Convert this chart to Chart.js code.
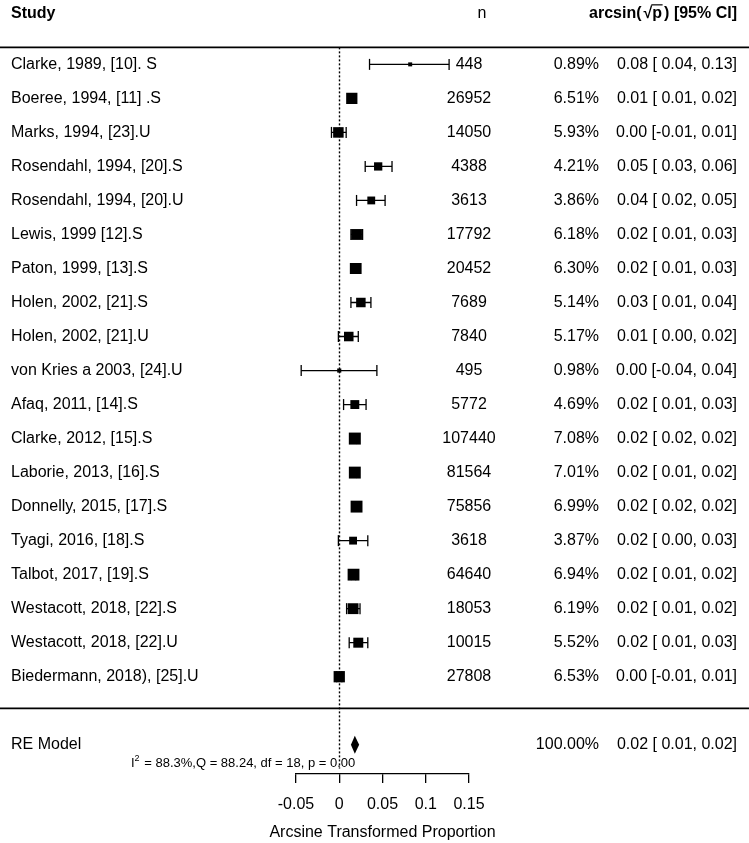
<!DOCTYPE html>
<html>
<head>
<meta charset="utf-8">
<script src="https://cdn.jsdelivr.net/npm/chart.js@4.4.1/dist/chart.umd.min.js"></script>
<style>
  html, body { margin: 0; padding: 0; background: #fff; }
  #wrap { width: 749px; height: 843px; position: relative; }
</style>
</head>
<body>
<div id="wrap"><canvas id="forest"></canvas></div>
<script>
// study rows, top to bottom
const studies = [
  "Clarke, 1989, [10]. S", "Boeree, 1994, [11] .S", "Marks, 1994, [23].U",
  "Rosendahl, 1994, [20].S", "Rosendahl, 1994, [20].U", "Lewis, 1999 [12].S",
  "Paton, 1999, [13].S", "Holen, 2002, [21].S", "Holen, 2002, [21].U",
  "von Kries a 2003, [24].U", "Afaq, 2011, [14].S", "Clarke, 2012, [15].S",
  "Laborie, 2013, [16].S", "Donnelly, 2015, [17].S", "Tyagi, 2016, [18].S",
  "Talbot, 2017, [19].S", "Westacott, 2018, [22].S", "Westacott, 2018, [22].U",
  "Biedermann, 2018), [25].U"
];
const sampleN = [448, 26952, 14050, 4388, 3613, 17792, 20452, 7689, 7840, 495,
  5772, 107440, 81564, 75856, 3618, 64640, 18053, 10015, 27808];
const weights = [0.89, 6.51, 5.93, 4.21, 3.86, 6.18, 6.30, 5.14, 5.17, 0.98,
  4.69, 7.08, 7.01, 6.99, 3.87, 6.94, 6.19, 5.52, 6.53];
const est = [0.082, 0.0145, -0.001, 0.045, 0.037, 0.020, 0.019, 0.025, 0.011, 0.000,
  0.018, 0.018, 0.018, 0.020, 0.016, 0.0165, 0.016, 0.022, 0.000];
const ciLow = [0.035, 0.010, -0.009, 0.030, 0.020, 0.0135, 0.013, 0.0135, -0.001, -0.044,
  0.005, 0.016, 0.015, 0.018, -0.001, 0.014, 0.0085, 0.0115, -0.003];
const ciHigh = [0.127, 0.019, 0.008, 0.061, 0.053, 0.027, 0.025, 0.0366, 0.022, 0.0435,
  0.031, 0.020, 0.020, 0.022, 0.033, 0.019, 0.024, 0.033, 0.003];
const estLabels = [
  "0.08 [ 0.04, 0.13]", "0.01 [ 0.01, 0.02]", "0.00 [-0.01, 0.01]",
  "0.05 [ 0.03, 0.06]", "0.04 [ 0.02, 0.05]", "0.02 [ 0.01, 0.03]",
  "0.02 [ 0.01, 0.03]", "0.03 [ 0.01, 0.04]", "0.01 [ 0.00, 0.02]",
  "0.00 [-0.04, 0.04]", "0.02 [ 0.01, 0.03]", "0.02 [ 0.02, 0.02]",
  "0.02 [ 0.01, 0.02]", "0.02 [ 0.02, 0.02]", "0.02 [ 0.00, 0.03]",
  "0.02 [ 0.01, 0.02]", "0.02 [ 0.01, 0.02]", "0.02 [ 0.01, 0.03]",
  "0.00 [-0.01, 0.01]"
];

// random effects summary
const reEst = 0.018, reLow = 0.0135, reHigh = 0.023;
const reWeight = "100.00%";
const reLabel = "0.02 [ 0.01, 0.02]";
const statI2 = "88.3%", statQ = "88.24", statDf = 18, statP = "0.00";

const xTicks = [-0.05, 0, 0.05, 0.1, 0.15];
const xTitle = "Arcsine Transformed Proportion";

const FONT = "'Liberation Sans', Arial, Helvetica, sans-serif";
const RE_ROW = 20;

// whisker segments, broken by null points
var whiskers = [];
for (let i = 0; i < studies.length; i++) {
  whiskers.push({ x: ciLow[i], y: i }, { x: ciHigh[i], y: i }, { x: null, y: null });
}
var squares = est.map((v, i) => ({ x: v, y: i }));

// metafor-like point sizes: linear in weight, 4..12 px side
const wMin = Math.min(...weights), wMax = Math.max(...weights);
var radii = weights.map((w) => (4 + 8 * (w - wMin) / (wMax - wMin)) / Math.SQRT2);

const forestText = {
  id: "forestText",
  beforeDatasetsDraw(chart) {
    const ctx = chart.ctx;
    const xs = chart.scales.x, ys = chart.scales.y;
    ctx.save();
    // header / footer rules
    ctx.strokeStyle = "#000";
    ctx.lineWidth = 1.8;
    [-0.5, 18.93].forEach((v) => {
      const py = ys.getPixelForValue(v);
      ctx.beginPath();
      ctx.moveTo(0, py);
      ctx.lineTo(chart.width, py);
      ctx.stroke();
    });
    // reference line at 0
    ctx.lineWidth = 1.4;
    ctx.setLineDash([2, 2]);
    const x0 = Math.round(xs.getPixelForValue(0)) + 0.5;
    ctx.beginPath();
    ctx.moveTo(x0, ys.getPixelForValue(-0.5));
    ctx.lineTo(x0, ys.getPixelForValue(20.7));
    ctx.stroke();
    ctx.restore();
  },
  afterDraw(chart) {
    const ctx = chart.ctx;
    const xs = chart.scales.x, ys = chart.scales.y;
    const left = 11, nCol = 469, wCol = 599, eCol = 737;
    ctx.save();
    ctx.fillStyle = "#000";
    ctx.strokeStyle = "#000";
    ctx.textBaseline = "middle";

    // header
    let hy = ys.getPixelForValue(-1.5);
    ctx.font = "bold 16px " + FONT;
    ctx.textAlign = "left";
    ctx.fillText("Study", left, hy);
    ctx.font = "16px " + FONT;
    ctx.textAlign = "center";
    ctx.fillText("n", 482, hy);
    ctx.font = "bold 16px " + FONT;
    ctx.textAlign = "left";
    const p1 = "arcsin(", p2 = "\u221A", p3 = "p", p4 = ") [95% CI]";
    const gap = 2;
    const w1 = ctx.measureText(p1).width, w2 = ctx.measureText(p2).width;
    const w3 = ctx.measureText(p3).width, w4 = ctx.measureText(p4).width;
    let hx = eCol - (w1 + w2 + w3 + w4 + 2 * gap);
    ctx.fillText(p1, hx, hy); hx += w1 + gap;
    ctx.fillText(p2, hx, hy); hx += w2;
    ctx.fillText(p3, hx, hy);
    ctx.beginPath();
    ctx.lineWidth = 1.2;
    ctx.moveTo(hx - 1, hy - 8.5);
    ctx.lineTo(hx + w3 + 0.5, hy - 8.5);
    ctx.stroke();
    hx += w3 + gap;
    ctx.fillText(p4, hx, hy);

    // rows
    ctx.font = "16px " + FONT;
    for (let i = 0; i < studies.length; i++) {
      const py = ys.getPixelForValue(i);
      ctx.textAlign = "left";
      ctx.fillText(studies[i], left, py);
      ctx.textAlign = "center";
      ctx.fillText(String(sampleN[i]), nCol, py);
      ctx.textAlign = "right";
      ctx.fillText(weights[i].toFixed(2) + "%", wCol, py);
      ctx.fillText(estLabels[i], eCol, py);
    }

    // RE model row
    const ry = ys.getPixelForValue(RE_ROW);
    ctx.textAlign = "left";
    ctx.fillText("RE Model", left, ry);
    ctx.textAlign = "right";
    ctx.fillText(reWeight, wCol, ry);
    ctx.fillText(reLabel, eCol, ry);

    // diamond
    const dh = 0.265;
    ctx.beginPath();
    ctx.moveTo(xs.getPixelForValue(reLow), ry);
    ctx.lineTo(xs.getPixelForValue(reEst), ys.getPixelForValue(RE_ROW - dh));
    ctx.lineTo(xs.getPixelForValue(reHigh), ry);
    ctx.lineTo(xs.getPixelForValue(reEst), ys.getPixelForValue(RE_ROW + dh));
    ctx.closePath();
    ctx.fill();

    // heterogeneity stats
    const sy = ys.getPixelForValue(20.56);
    let sx = 131;
    ctx.textAlign = "left";
    ctx.font = "13px " + FONT;
    ctx.fillText("I", sx, sy); sx += ctx.measureText("I").width;
    ctx.font = "9px " + FONT;
    ctx.fillText("2", sx, sy - 5); sx += ctx.measureText("2").width + 1;
    ctx.font = "13px " + FONT;
    ctx.fillText(" = " + statI2 + ",Q = " + statQ + ", df = " + statDf + ", p = " + statP, sx, sy);

    // x axis title (drawn here so it is not squeezed to the axis width)
    ctx.font = "16px " + FONT;
    ctx.textAlign = "center";
    ctx.fillText(xTitle, (xs.left + xs.right) / 2, 833);
    ctx.restore();
  },
};

new Chart(document.getElementById("forest").getContext("2d"), {
  type: "scatter",
  data: {
    datasets: [
      {
        data: squares,
        order: 0,
        pointStyle: "rect",
        pointRadius: radii,
        pointBackgroundColor: "#000",
        pointBorderWidth: 0,
        showLine: false,
        clip: false,
      },
      {
        data: whiskers,
        order: 1,
        showLine: true,
        spanGaps: false,
        borderColor: "#000",
        borderWidth: 1.3,
        pointStyle: "line",
        rotation: 90,
        pointRadius: 5.5,
        pointBorderColor: "#000",
        pointBorderWidth: 1.3,
        clip: false,
      },
    ],
  },
  options: {
    responsive: true,
    maintainAspectRatio: false,
    animation: false,
    events: [],
    layout: { padding: { left: 296, right: 280, top: 0, bottom: 0 } },
    plugins: { legend: { display: false }, tooltip: { enabled: false } },
    scales: {
      x: {
        type: "linear",
        min: -0.05,
        max: 0.15,
        afterFit: (axis) => { axis.height = 69; },
        afterBuildTicks: (axis) => { axis.ticks = xTicks.map((v) => ({ value: v })); },
        border: { display: true, color: "#000", width: 1.3 },
        grid: { display: true, drawOnChartArea: false, drawTicks: true, tickLength: 9, color: "#000", lineWidth: 1.3 },
        ticks: {
          color: "#000",
          padding: 12,
          maxRotation: 0,
          font: { family: FONT, size: 16 },
          callback: (v) => String(+Number(v).toFixed(2)),
        },
        title: { display: false },
      },
      y: {
        type: "linear",
        display: false,
        reverse: true,
        min: -1.643,
        max: 20.86,
      },
    },
  },
  plugins: [forestText],
});
</script>
</body>
</html>
